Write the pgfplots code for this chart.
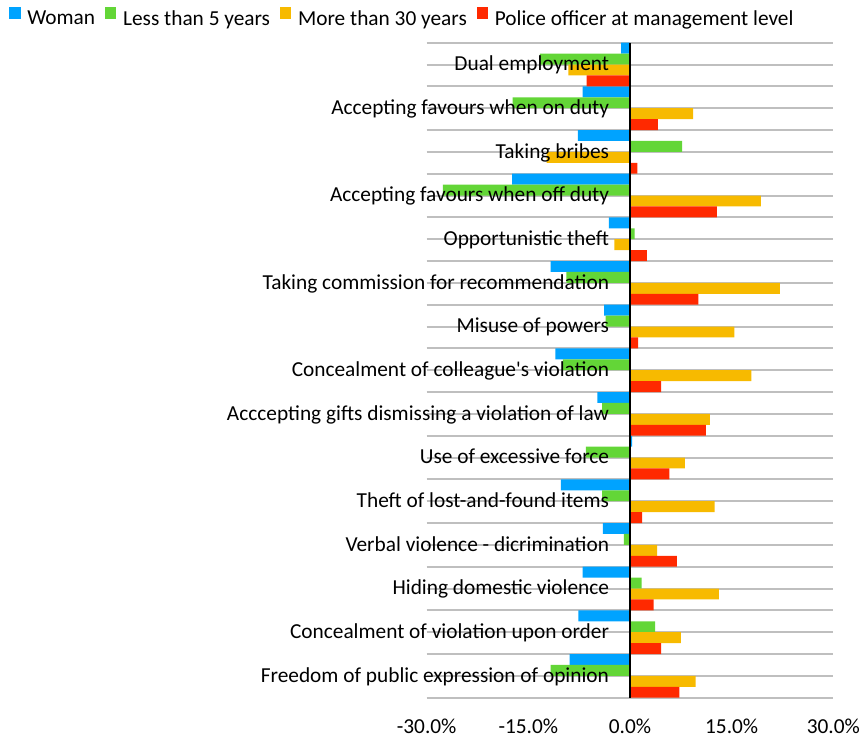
\documentclass[border=0pt]{standalone}
\usepackage{fontspec}
\setmainfont{Carlito}
\usepackage{pgfplots}
\pgfplotsset{compat=1.18}
\definecolor{cblue}{RGB}{0,163,255}
\definecolor{cgreen}{RGB}{99,214,55}
\definecolor{cyellow}{RGB}{247,186,0}
\definecolor{cred}{RGB}{255,41,0}
\definecolor{cgrid}{RGB}{191,191,191}
\pgfplotsset{layers/mylayers/.define layer set={axis background,axis grid,pre main,main,axis ticks,axis lines,axis tick labels,axis descriptions,axis foreground}{/pgfplots/layers/standard}}
\begin{document}
\begin{tikzpicture}[font=\fontsize{16pt}{19.2pt}\selectfont]
\begin{axis}[
  set layers=mylayers,
  at={(0pt,0pt)}, anchor=south west,
  width=305pt, height=491.25pt, scale only axis,
  xmin=-30, xmax=30, ymin=-0.5, ymax=14.5,
  y dir=reverse,
  xtick={-30,-15,0,15,30},
  xticklabels={-30.0\%,-15.0\%,0.0\%,15.0\%,30.0\%},
  ytick={0,...,14},
  yticklabels={Dual employment,Accepting favours when on duty,Taking bribes,Accepting favours when off duty,Opportunistic theft,Taking commission for recommendation,Misuse of powers,Concealment of colleague\textquotesingle s violation,Acccepting gifts dismissing a violation of law,Use of excessive force,Theft of lost-and-found items,Verbal violence - dicrimination,Hiding domestic violence,Concealment of violation upon order,Freedom of public expression of opinion},
  minor ytick={-0.5,0.5,...,14.5},
  ymajorgrids, yminorgrids,
  major grid style={draw=cgrid, line width=1.5pt},
  minor grid style={draw=cgrid, line width=1.5pt},
  axis line style={draw=none},
  tick style={draw=none},
  major tick length=0pt, minor tick length=0pt,
  yticklabel style={anchor=base east, inner sep=0pt, xshift=137pt, yshift=-4.6pt},
  xticklabel style={anchor=base, inner sep=0pt, yshift=-26.7pt},
  clip=false,
  legend columns=4,
  legend style={at={(axis description cs:-1.027,1.037)}, anchor=west, draw=none, fill=none, inner sep=0pt,
    font=\fontsize{16pt}{19.2pt}\selectfont,
    /tikz/every odd column/.append style={column sep=3pt},
    /tikz/every even column/.append style={column sep=5.5pt}},
  legend image code/.code={\fill[#1] (0pt,0pt) rectangle (8.5pt,8.5pt);},
  legend cell align=left,
]
\addplot[xbar, bar width=0.25, bar shift=-0.375, fill=cblue, draw=none] coordinates {
(-1.3,0) (-7.0,1) (-7.7,2) (-17.4,3) (-3.1,4) (-11.7,5) (-3.8,6) (-11.0,7) (-4.8,8) (0.3,9) (-10.2,10) (-4.0,11) (-7.0,12) (-7.6,13) (-8.9,14)};
\addlegendentry{Woman}
\addplot[xbar, bar width=0.25, bar shift=-0.125, fill=cgreen, draw=none] coordinates {
(-13.3,0) (-17.3,1) (7.7,2) (-27.6,3) (0.7,4) (-9.4,5) (-3.6,6) (-9.9,7) (-4.1,8) (-6.5,9) (-4.1,10) (-0.9,11) (1.7,12) (3.7,13) (-11.7,14)};
\addlegendentry{Less than 5 years}
\addplot[xbar, bar width=0.25, bar shift=0.125, fill=cyellow, draw=none] coordinates {
(-9.1,0) (9.3,1) (-12.3,2) (19.3,3) (-2.3,4) (22.1,5) (15.4,6) (17.9,7) (11.8,8) (8.1,9) (12.5,10) (4.0,11) (13.1,12) (7.5,13) (9.7,14)};
\addlegendentry{More than 30 years}
\addplot[xbar, bar width=0.25, bar shift=0.375, fill=cred, draw=none] coordinates {
(-6.4,0) (4.1,1) (1.1,2) (12.8,3) (2.5,4) (10.1,5) (1.2,6) (4.6,7) (11.2,8) (5.8,9) (1.8,10) (6.9,11) (3.5,12) (4.6,13) (7.3,14)};
\addlegendentry{Police officer at management level}
\draw[black, line width=1.5pt] (axis cs:0,-0.5) -- (axis cs:0,14.5);
\end{axis}
\pgfresetboundingbox
\path[use as bounding box] (-320pt,-29.5pt) rectangle (328pt,523.3pt);
\end{tikzpicture}
\end{document}
